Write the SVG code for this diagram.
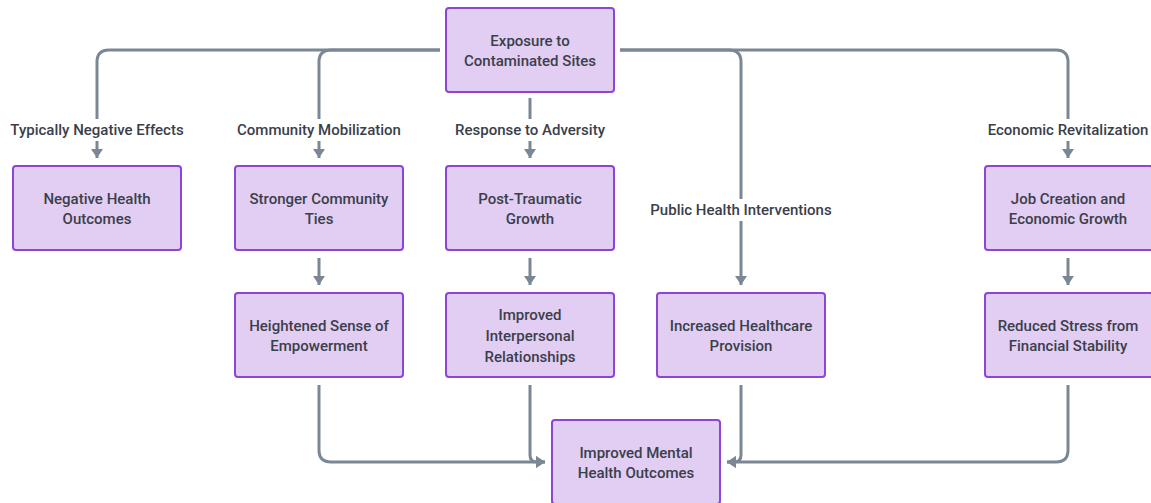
<svg xmlns="http://www.w3.org/2000/svg" width="1151" height="503" viewBox="0 0 1151 503">
<defs>
<marker id="ah" viewBox="0 0 10 10" refX="10" refY="5" markerWidth="9" markerHeight="12" preserveAspectRatio="none" markerUnits="userSpaceOnUse" orient="auto">
<path d="M0,0 L10,5 L0,10 z" fill="#7b8794"/>
</marker>
<style>
.node rect{fill:#e2cdf3;stroke:#8e44d4;stroke-width:2}
.node text,.lbl text{font-family:"Roboto","Liberation Sans",sans-serif;font-size:15px;font-weight:500;fill:#3a404a;text-anchor:middle}
.edge{fill:none;stroke:#7b8794;stroke-width:3;marker-end:url(#ah)}
.lbl rect{fill:#ffffff}
</style>
</defs>
<rect width="1151" height="503" fill="#ffffff"/>
<g id="connectors">
<path class="edge" d="M440,50 H109 Q97,50 97,62 V158"/>
<path class="edge" d="M440,50 H331 Q319,50 319,62 V158"/>
<path class="edge" d="M530,98 V158"/>
<path class="edge" d="M620,50 H729 Q741,50 741,62 V285"/>
<path class="edge" d="M620,50 H1056 Q1068,50 1068,62 V158"/>
<path class="edge" d="M319,258 V285"/>
<path class="edge" d="M530,258 V285"/>
<path class="edge" d="M1068,258 V285"/>
<path class="edge" d="M319,385 V450 Q319,462 331,462 H545"/>
<path class="edge" d="M530,385 V455 Q530,462 537,462 H545"/>
<path class="edge" d="M741,385 V455 Q741,462 734,462 H727"/>
<path class="edge" d="M1068,385 V450 Q1068,462 1056,462 H727"/>
</g>
<g id="labels">
<g class="lbl"><rect x="8" y="119" width="178" height="22"/><text x="97" y="135">Typically Negative Effects</text></g>
<g class="lbl"><rect x="235" y="119" width="168" height="22"/><text x="319" y="135">Community Mobilization</text></g>
<g class="lbl"><rect x="452" y="119" width="156" height="22"/><text x="530" y="135">Response to Adversity</text></g>
<g class="lbl"><rect x="648" y="199" width="186" height="22"/><text x="741" y="215">Public Health Interventions</text></g>
<g class="lbl"><rect x="986" y="119" width="164" height="22"/><text x="1068" y="135">Economic Revitalization</text></g>
</g>
<g id="n_exposure" class="node"><rect x="446" y="8" width="168" height="84" rx="3"/><text x="530" y="46">Exposure to</text><text x="530" y="66">Contaminated Sites</text></g>
<g id="n_negative" class="node"><rect x="13" y="166" width="168" height="84" rx="3"/><text x="97" y="204">Negative Health</text><text x="97" y="224">Outcomes</text></g>
<g id="n_community" class="node"><rect x="235" y="166" width="168" height="84" rx="3"/><text x="319" y="204">Stronger Community</text><text x="319" y="224">Ties</text></g>
<g id="n_ptg" class="node"><rect x="446" y="166" width="168" height="84" rx="3"/><text x="530" y="204">Post-Traumatic</text><text x="530" y="224">Growth</text></g>
<g id="n_jobs" class="node"><rect x="985" y="166" width="168" height="84" rx="3"/><text x="1068" y="204">Job Creation and</text><text x="1068" y="224">Economic Growth</text></g>
<g id="n_empower" class="node"><rect x="235" y="293" width="168" height="84" rx="3"/><text x="319" y="331">Heightened Sense of</text><text x="319" y="351">Empowerment</text></g>
<g id="n_interpersonal" class="node"><rect x="446" y="293" width="168" height="84" rx="3"/><text x="530" y="320">Improved</text><text x="530" y="341">Interpersonal</text><text x="530" y="362">Relationships</text></g>
<g id="n_healthcare" class="node"><rect x="657" y="293" width="168" height="84" rx="3"/><text x="741" y="331">Increased Healthcare</text><text x="741" y="351">Provision</text></g>
<g id="n_stress" class="node"><rect x="985" y="293" width="168" height="84" rx="3"/><text x="1068" y="331">Reduced Stress from</text><text x="1068" y="351">Financial Stability</text></g>
<g id="n_mental" class="node"><rect x="552" y="420" width="168" height="84" rx="3"/><text x="636" y="458">Improved Mental</text><text x="636" y="478">Health Outcomes</text></g>
</svg>
